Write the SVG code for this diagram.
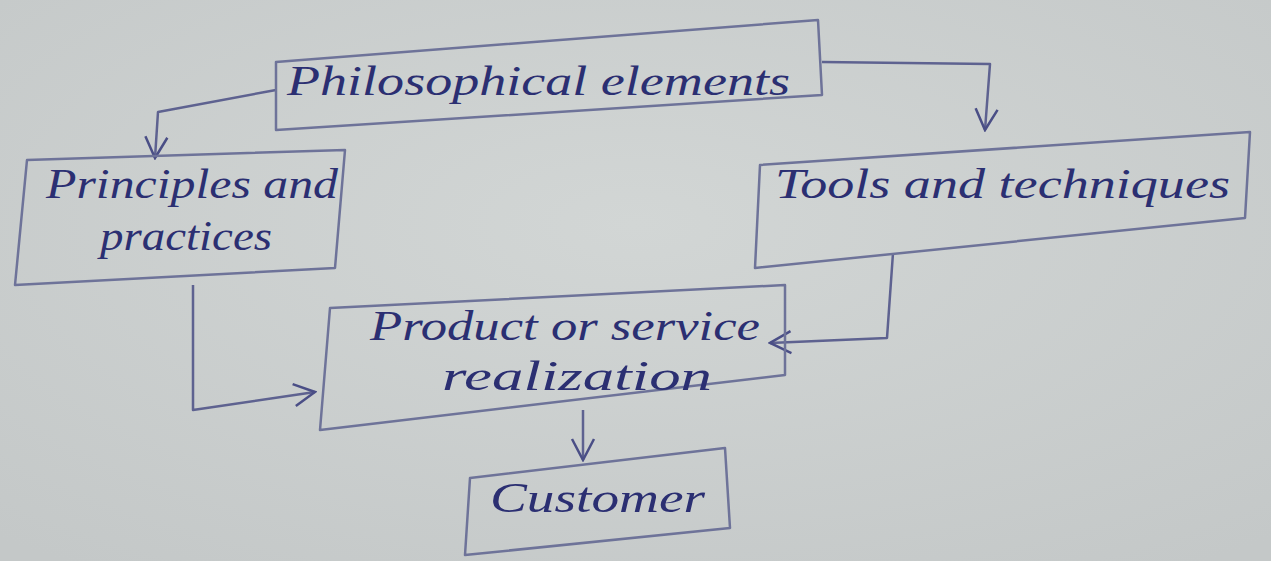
<svg xmlns="http://www.w3.org/2000/svg" width="1271" height="561" viewBox="0 0 1271 561">
<defs>
<style>
.box{fill:none;stroke:#6e7399;stroke-width:2.5;stroke-linejoin:round}
.lbl{font-family:"Liberation Serif",serif;font-style:italic;font-size:42px;fill:#2b2f72}
.con{fill:none;stroke:#5e6290;stroke-width:2.5;stroke-linejoin:round}
</style>
<marker id="ah" viewBox="0 0 26 26" refX="24" refY="13" markerWidth="26" markerHeight="26" markerUnits="userSpaceOnUse" orient="auto">
<polyline points="3,2 24,13 3,24" fill="none" stroke="#4a4e86" stroke-width="2.5"/>
</marker>
<radialGradient id="paper" cx="50%" cy="40%" r="75%">
<stop offset="0" stop-color="#d2d6d5"/>
<stop offset="1" stop-color="#c4c8c8"/>
</radialGradient>
</defs>
<rect width="1271" height="561" fill="url(#paper)"/>
<g id="connectors">
<polyline class="con" points="276,90 158,112 155,158" marker-end="url(#ah)"/>
<polyline class="con" points="822,62 990,64 985,130" marker-end="url(#ah)"/>
<polyline class="con" points="193,285 193,410 315,392" marker-end="url(#ah)"/>
<polyline class="con" points="893,253 887,338 770,343" marker-end="url(#ah)"/>
<polyline class="con" points="583,410 583,460" marker-end="url(#ah)"/>
</g>
<g id="philosophical">
<polygon class="box" points="276,62 818,20 822,95 276,130"/>
<text class="lbl" x="287" y="95" textLength="503" lengthAdjust="spacingAndGlyphs">Philosophical elements</text>
</g>
<g id="principles">
<polygon class="box" points="27,160 345,150 335,268 15,285"/>
<text class="lbl" x="46" y="198" textLength="292" lengthAdjust="spacingAndGlyphs">Principles and</text>
<text class="lbl" x="100" y="250" textLength="172" lengthAdjust="spacingAndGlyphs">practices</text>
</g>
<g id="tools">
<polygon class="box" points="760,165 1250,132 1245,218 755,268"/>
<text class="lbl" x="775" y="198" textLength="455" lengthAdjust="spacingAndGlyphs">Tools and techniques</text>
</g>
<g id="product">
<polygon class="box" points="330,308 785,285 785,375 320,430"/>
<text class="lbl" x="370" y="340" textLength="390" lengthAdjust="spacingAndGlyphs">Product or service</text>
<text class="lbl" x="442" y="390" textLength="270" lengthAdjust="spacingAndGlyphs">realization</text>
</g>
<g id="customer">
<polygon class="box" points="470,478 725,448 730,528 465,555"/>
<text class="lbl" x="490" y="512" textLength="215" lengthAdjust="spacingAndGlyphs">Customer</text>
</g>
</svg>
